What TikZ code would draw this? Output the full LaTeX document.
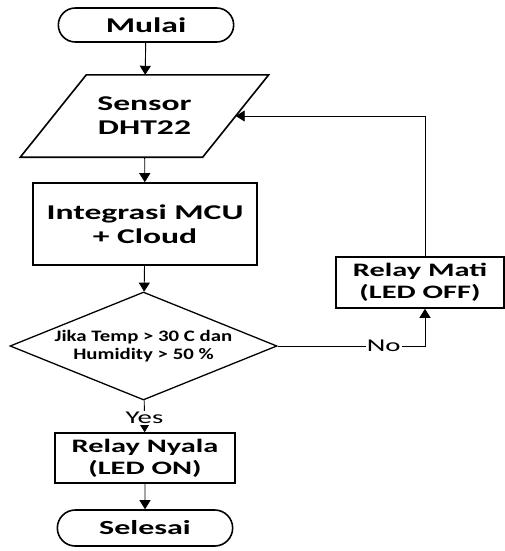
\documentclass[tikz,border=0pt]{standalone}
\usepackage{fontspec}
\setmainfont{Carlito}[FakeStretch=1.6]
\newfontfamily\diafont{Carlito}[FakeStretch=1.3]
\usetikzlibrary{shapes.geometric, shapes.misc, arrows.meta, positioning, calc}

\tikzset{
    terminal/.style={rounded rectangle,draw,line width=1.6pt,minimum width=182pt,minimum height=34pt,font=\fontsize{21}{24}\selectfont\bfseries},
    process/.style={rectangle,draw,line width=1.6pt,align=center,inner sep=0pt,font=\fontsize{21}{24}\selectfont\bfseries},
    relaybox/.style={process,font=\fontsize{19}{22}\selectfont\bfseries},
    iotext/.style={rectangle,align=center,inner sep=0pt,font=\fontsize{21}{24}\selectfont\bfseries},
    decision/.style={diamond,draw,line width=1.3pt,aspect=2.47,minimum width=267pt,minimum height=108pt,inner sep=0pt,align=center,font=\diafont\fontsize{16}{18}\selectfont\bfseries},
    flow/.style={-{Triangle[length=9pt,width=11pt]},line width=0.9pt},
    flowtext/.style={fill=white,inner sep=1pt,font=\fontsize{18}{18}\selectfont}
}

\begin{document}
\begin{tikzpicture}[x=1pt,y=-1pt]
    \useasboundingbox (0,0) rectangle (505,551);
    % main column
    \node[terminal] (mulai) at (146,25) {Mulai};
    \node[iotext,minimum width=182pt,minimum height=82pt] (sensor) at (144.5,116) {Sensor\\DHT22};
    \draw[line width=1.6pt] ([xshift=-33pt]sensor.south west) -- ([xshift=33pt]sensor.north west)
        -- ([xshift=33pt]sensor.north east) -- ([xshift=-33pt]sensor.south east) -- cycle;
    \node[process,minimum width=224pt,minimum height=82pt] (integ) at (145,224) {Integrasi MCU\\+ Cloud};
    \node[decision] (cond) at (143.5,346) {Jika Temp > 30 C dan\\Humidity > 50 \%};
    \node[relaybox,minimum width=180pt,minimum height=50pt] (nyala) at (145,458) {Relay Nyala\\(LED ON)};
    \node[terminal,font=\fontsize{20}{24}\selectfont\bfseries,minimum height=36pt] (selesai) at (145,528) {Selesai};
    % right branch
    \node[relaybox,minimum width=168pt,minimum height=51pt] (mati) at (420,282.5) {Relay Mati\\(LED OFF)};
    \coordinate (matiin) at ([xshift=5pt]mati.south);
    \coordinate (matiout) at ([xshift=5pt]mati.north);

    \draw[flow] (mulai) -- (sensor);
    \draw[flow] (sensor) -- (integ);
    \draw[flow] (integ) -- (cond);
    \draw[flow] (cond) -- node[flowtext,pos=0.55] {Yes} (nyala);
    \draw[flow] (nyala) -- (selesai);
    \draw[flow] (cond.east) -- node[flowtext,pos=0.72] {No} (cond.east -| matiin) -- (matiin);
    \draw[flow] (matiout) |- (sensor.east);
\end{tikzpicture}
\end{document}
